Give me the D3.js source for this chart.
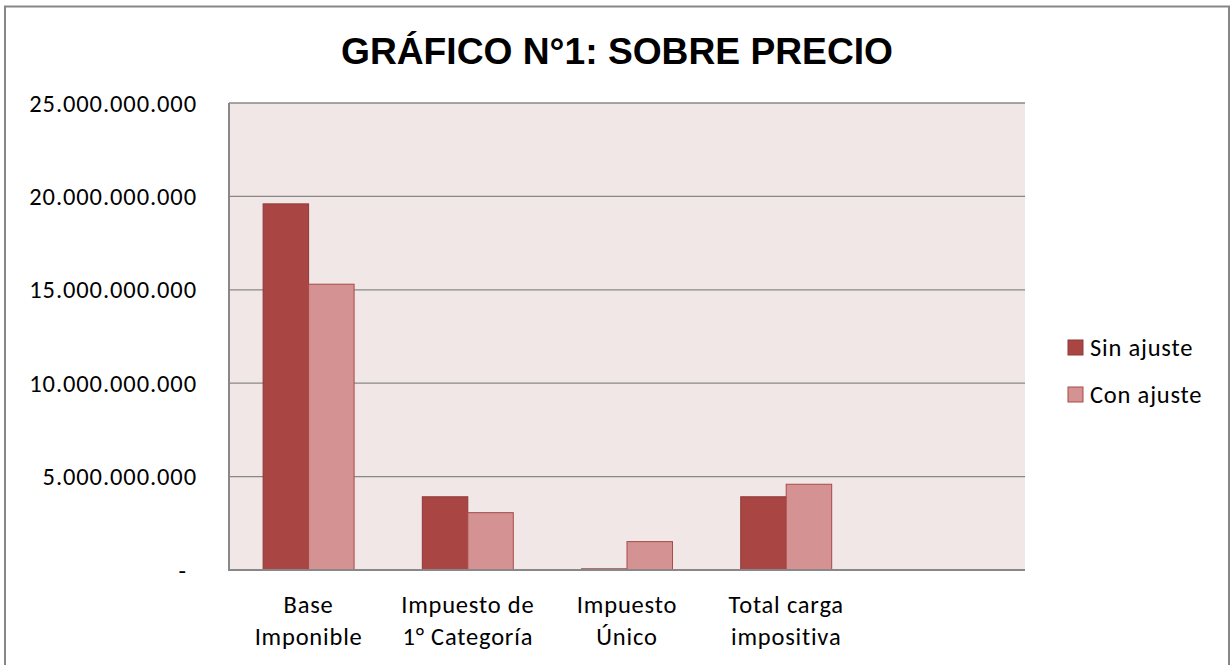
<!DOCTYPE html>
<html>
<head>
<meta charset="utf-8">
<script src="https://cdn.jsdelivr.net/npm/d3@7"></script>
<style>
    body { margin: 0; background: #fff; }
    svg { display: block; }
</style>
</head>
<body>
<svg id="chart" width="1230" height="665"></svg>
<script>
// datos
var categories = ["Base Imponible", "Impuesto de 1° Categoría", "Impuesto Único", "Total carga impositiva", ""];
var categoryLines = [["Base", "Imponible"], ["Impuesto de", "1° Categoría"], ["Impuesto", "Único"], ["Total carga", "impositiva"], []];
var seriesNames = ["Sin ajuste", "Con ajuste"];
var sinAjuste = [19600000000, 3920000000, 60000000, 3920000000, null];
var conAjuste = [15300000000, 3070000000, 1520000000, 4590000000, null];
var yTicks = [0, 5000000000, 10000000000, 15000000000, 20000000000, 25000000000];

var colors = { "Sin ajuste": "#A94644", "Con ajuste": "#D49392" };
var strokes = { "Sin ajuste": "#8E3937", "Con ajuste": "#A84A48" };
var labelFont = "Carlito, Lato, 'Open Sans', sans-serif";

var svg = d3.select("#chart");
var plotLeft = 229, plotRight = 1025, plotTop = 103, plotBottom = 570;

// marco exterior
svg.append("rect")
    .attr("x", 5).attr("y", 6.5)
    .attr("width", 1224).attr("height", 700)
    .attr("fill", "none")
    .attr("stroke", "#878787")
    .attr("stroke-width", 2);

svg.append("text")
    .attr("x", 617).attr("y", 64)
    .attr("text-anchor", "middle")
    .style("font-family", "'Liberation Sans', Arial, sans-serif")
    .style("font-weight", "bold")
    .style("font-size", "37.2px")
    .style("fill", "#000")
    .text("GRÁFICO N°1: SOBRE PRECIO");

var x0 = d3.scaleBand().domain(categories).range([plotLeft, plotRight]).padding(0);
var x1 = d3.scaleBand().domain(seriesNames).range([0, x0.bandwidth()]).paddingInner(0).paddingOuter(0.75);
var y = d3.scaleLinear().domain([0, 25000000000]).range([plotBottom, plotTop]);

var locale = d3.formatLocale({ decimal: ",", thousands: ".", grouping: [3], currency: ["", ""] });
var fmt = locale.format(",.0f");

// area de trazado
svg.append("rect")
    .attr("x", plotLeft).attr("y", plotTop)
    .attr("width", plotRight - plotLeft).attr("height", plotBottom - plotTop)
    .attr("fill", "#F2E7E7");

svg.append("g").selectAll("line")
    .data(yTicks.filter(function(d) { return d > 0; }))
    .enter().append("line")
    .attr("x1", plotLeft).attr("x2", plotRight)
    .attr("y1", function(d) { return y(d); })
    .attr("y2", function(d) { return y(d); })
    .attr("stroke", "#888")
    .attr("stroke-width", 1.3);

var groups = svg.append("g").selectAll("g")
    .data(categories)
    .enter().append("g")
    .attr("transform", function(d) { return "translate(" + x0(d) + ",0)"; });

groups.selectAll("rect")
    .data(function(d, i) {
        return [
            { serie: "Sin ajuste", value: sinAjuste[i] },
            { serie: "Con ajuste", value: conAjuste[i] }
        ].filter(function(e) { return e.value != null; });
    })
    .enter().append("rect")
    .attr("x", function(d) { return x1(d.serie); })
    .attr("y", function(d) { return y(d.value); })
    .attr("width", x1.bandwidth())
    .attr("height", function(d) { return y(0) - y(d.value); })
    .attr("fill", function(d) { return colors[d.serie]; })
    .attr("stroke", function(d) { return strokes[d.serie]; })
    .attr("stroke-width", 1);

// ejes
svg.append("line")
    .attr("x1", plotLeft).attr("x2", plotLeft)
    .attr("y1", plotTop).attr("y2", plotBottom + 1)
    .attr("stroke", "#888").attr("stroke-width", 2);
svg.append("line")
    .attr("x1", plotLeft - 1).attr("x2", plotRight)
    .attr("y1", plotBottom).attr("y2", plotBottom)
    .attr("stroke", "#888").attr("stroke-width", 2);

svg.append("g").selectAll("text")
    .data(yTicks)
    .enter().append("text")
    .attr("x", function(d) { return d === 0 ? 187 : 197; })
    .attr("y", function(d) { return y(d); })
    .attr("dy", "0.35em")
    .attr("text-anchor", "end")
    .style("font-family", labelFont)
    .style("font-size", "24.5px")
    .style("letter-spacing", "0.9px")
    .style("fill", "#000")
    .text(function(d) { return d === 0 ? "-" : fmt(d); });

var catLabels = svg.append("g").selectAll("text")
    .data(categories)
    .enter().append("text")
    .attr("text-anchor", "middle")
    .style("font-family", labelFont)
    .style("font-size", "24.5px")
    .style("letter-spacing", "0.8px")
    .style("fill", "#000");

catLabels.each(function(d, i) {
    var t = d3.select(this);
    categoryLines[i].forEach(function(line, k) {
        t.append("tspan")
            .attr("x", x0(d) + x0.bandwidth() / 2)
            .attr("y", 613 + k * 32)
            .text(line);
    });
});

// leyenda
var legend = svg.append("g").selectAll("g")
    .data(seriesNames)
    .enter().append("g")
    .attr("transform", function(d, i) { return "translate(1068," + (340 + i * 47) + ")"; });

legend.append("rect")
    .attr("width", 15).attr("height", 15)
    .attr("fill", function(d) { return colors[d]; })
    .attr("stroke", function(d) { return strokes[d]; })
    .attr("stroke-width", 1);

legend.append("text")
    .attr("x", 22).attr("y", 7.5)
    .attr("dy", "0.35em")
    .style("font-family", labelFont)
    .style("font-size", "24.5px")
    .style("letter-spacing", "0.8px")
    .style("fill", "#000")
    .text(function(d) { return d; });
</script>
</body>
</html>
